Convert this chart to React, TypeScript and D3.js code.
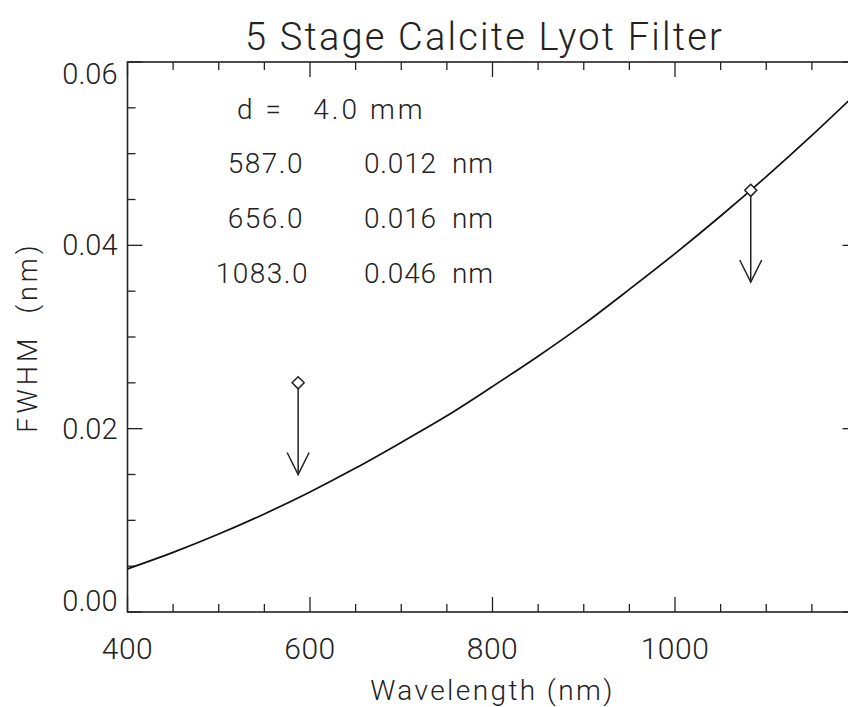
import * as d3 from "d3";

// FWHM curve, every 50 nm
const wavelengths = [400, 450, 500, 550, 600, 650, 700, 750, 800, 850, 900, 950, 1000, 1050, 1100, 1150, 1200];
const fwhm = [0.0047, 0.0065, 0.0085, 0.0107, 0.0131, 0.0157, 0.0185, 0.0214, 0.0246, 0.0279, 0.0314, 0.0352, 0.0391, 0.0432, 0.0475, 0.052, 0.0567];

// marked lines: diamond position and arrow tip
const markWl = [587, 1083];
const markTop = [0.025, 0.046];
const markTip = [0.015, 0.036];

const xTicks = [400, 600, 800, 1000];
const yTicks = [0, 0.02, 0.04, 0.06];

const noteLeft = ["587.0", "656.0", "1083.0"];
const noteRight = ["0.012  nm", "0.016  nm", "0.046  nm"];

const W = 848;
const H = 707;
const margin = { top: 62, right: -9.5, bottom: 95, left: 127.5 };
const font = "Roboto, 'DejaVu Sans', sans-serif";

export default function App() {
  const x = d3.scaleLinear().domain([400, 1200]).range([margin.left, W - margin.right]);
  const y = d3.scaleLinear().domain([0, 0.06]).range([H - margin.bottom, margin.top]);
  const x0 = x.range()[0], x1 = x.range()[1];
  const y0 = y.range()[0], y1 = y.range()[1];

  const line = d3.line<number>()
    .x((_, i) => x(wavelengths[i]))
    .y((d) => y(d))
    .curve(d3.curveMonotoneX);

  const xMinor = d3.range(400, 1201, 50);
  const yMinor = d3.range(0, 0.0601, 0.005);
  const isMajorX = (v: number) => v % 200 === 0;
  const isMajorY = (v: number) => Math.abs(v / 0.02 - Math.round(v / 0.02)) < 1e-6;
  // end labels are kept inside the frame, as IDL does
  const labelMid = (v: number) => Math.min(Math.max(y(v), y1 + 11.5), y0 - 11);

  const ink = "#222";
  const txt = { fontFamily: font, fontWeight: 300, fill: ink };

  return (
    <svg width={W} height={H} style={{ position: "absolute", left: 0, top: 0, background: "#fff" }}>
      <defs>
        <clipPath id="plot">
          <rect x={x0} y={y1} width={x1 - x0} height={y0 - y1} />
        </clipPath>
      </defs>
      <rect width={W} height={H} fill="#fff" />

      {/* frame */}
      <rect x={x0} y={y1} width={x1 - x0} height={y0 - y1} fill="none" stroke={ink} strokeWidth={1.6} />

      {/* ticks on all four sides */}
      {xMinor.map((v) => {
        const len = isMajorX(v) ? 15 : 8;
        return (
          <g key={"xt" + v} stroke={ink} strokeWidth={1.3}>
            <line x1={x(v)} x2={x(v)} y1={y0} y2={y0 - len} />
            <line x1={x(v)} x2={x(v)} y1={y1} y2={y1 + len} />
          </g>
        );
      })}
      {yMinor.map((v) => {
        const len = isMajorY(v) ? 15 : 8;
        return (
          <g key={"yt" + v} stroke={ink} strokeWidth={1.3}>
            <line x1={x0} x2={x0 + len} y1={y(v)} y2={y(v)} />
            <line x1={x1} x2={x1 - len} y1={y(v)} y2={y(v)} />
          </g>
        );
      })}

      {/* tick labels */}
      {xTicks.map((v) => (
        <text key={"xl" + v} x={x(v)} y={y0 + 47} textAnchor="middle" fontSize={30} letterSpacing={0.5} {...txt}>
          {v}
        </text>
      ))}
      {yTicks.map((v) => (
        <text key={"yl" + v} x={x0 - 10} y={labelMid(v) + 10} textAnchor="end" fontSize={29} {...txt}>
          {v.toFixed(2)}
        </text>
      ))}

      {/* axis titles */}
      <text x={(x0 + x1) / 2} y={y0 + 88} textAnchor="middle" fontSize={28} letterSpacing={2.4} {...txt}>
        Wavelength (nm)
      </text>
      <text transform={`translate(37, ${(y0 + y1) / 2}) rotate(-90)`} textAnchor="middle" fontSize={27} letterSpacing={4} {...txt} style={{ whiteSpace: "pre" }}>
        {"FWHM  (nm)"}
      </text>
      <text x={(x0 + x1) / 2 - 8} y={50} textAnchor="middle" fontSize={38} letterSpacing={2.2} {...txt}>
        5 Stage Calcite Lyot Filter
      </text>

      {/* notes */}
      <text x={237} y={119} fontSize={28} letterSpacing={3} {...txt} style={{ whiteSpace: "pre" }}>
        {"d =   4.0 mm"}
      </text>
      {noteLeft.map((t, i) => (
        <g key={"n" + i}>
          <text x={i === 2 ? 309 : 304} y={173 + i * 55} textAnchor="end" fontSize={28} letterSpacing={1.5} {...txt}>
            {t}
          </text>
          <text x={364} y={173 + i * 55} fontSize={28} letterSpacing={0.8} {...txt} style={{ whiteSpace: "pre" }}>
            {noteRight[i]}
          </text>
        </g>
      ))}

      {/* curve */}
      <path d={line(fwhm) || ""} fill="none" stroke="#111" strokeWidth={1.7} clipPath="url(#plot)" />

      {/* diamonds with arrows */}
      {markWl.map((w, i) => {
        const cx = x(w), cy = y(markTop[i]), ty = y(markTip[i]);
        const s = 6;
        return (
          <g key={"m" + i} stroke={ink} strokeWidth={1.5} fill="none">
            <path d={`M${cx},${cy - s}L${cx + s},${cy}L${cx},${cy + s}L${cx - s},${cy}Z`} fill="#fff" />
            <line x1={cx} x2={cx} y1={cy + s} y2={ty} />
            <path d={`M${cx - 11},${ty - 22}L${cx},${ty}L${cx + 11},${ty - 22}`} />
          </g>
        );
      })}
    </svg>
  );
}
